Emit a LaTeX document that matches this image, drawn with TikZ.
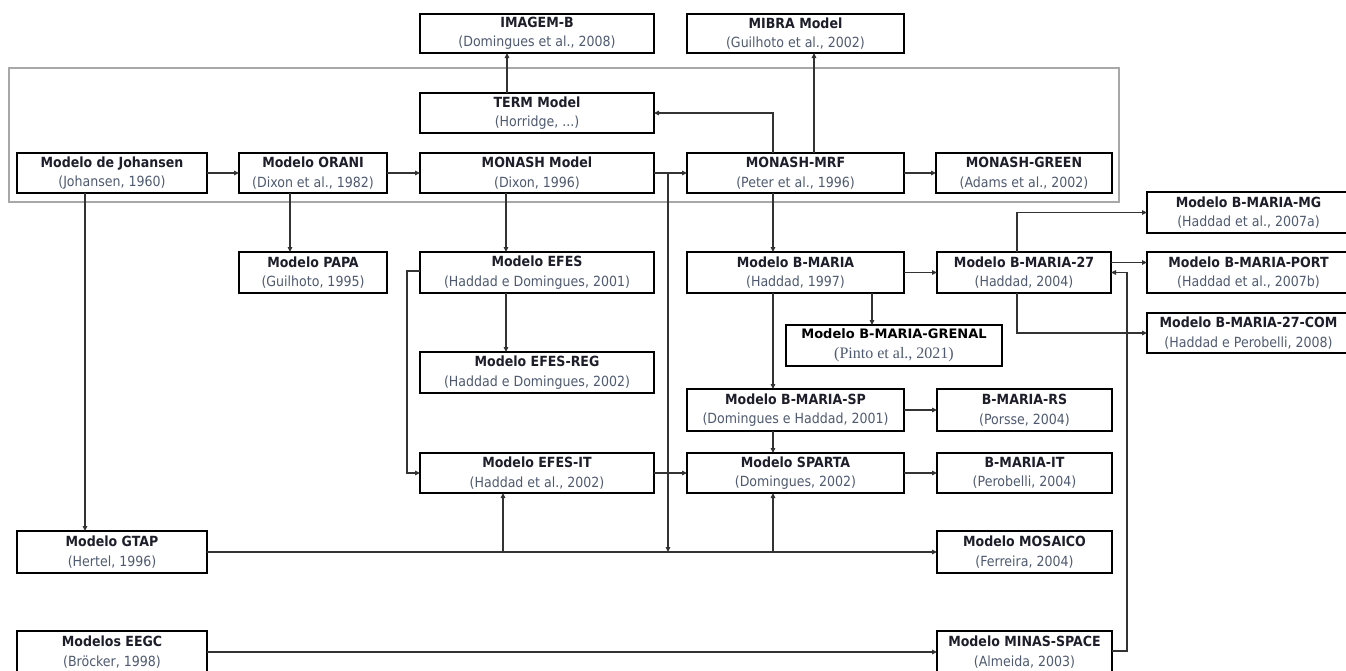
\documentclass[tikz,border=0pt]{standalone}
\usepackage{fontspec}
\usetikzlibrary{arrows.meta,calc}
\setmainfont{DejaVu Sans Condensed}
\newfontfamily\grfont{DejaVu Sans}
\newfontfamily\serfont{Liberation Serif}
\definecolor{ttlc}{HTML}{1E1E2A}
\definecolor{citc}{HTML}{4F5A70}
\definecolor{linec}{HTML}{333333}
\definecolor{framec}{HTML}{A8A8A8}
\newcommand{\mdl}[7]{\node[mbox, minimum width=#4pt, minimum height=#5pt] (#1) at (#2,#3) {{\bfseries\color{ttlc}#6}\\{\color{citc}#7}};}
\begin{document}
\begin{tikzpicture}[x=1pt,y=-1pt,
  mbox/.style={draw=black, line width=2pt, fill=white, inner sep=0pt, outer sep=0pt,
    align=center, anchor=north west, font=\fontsize{14}{19.5}\selectfont},
  arr/.style={draw=linec, line width=1.2pt, -{Triangle[length=5pt,width=4.5pt]}},
  frame/.style={draw=framec, line width=1.5pt}]
\useasboundingbox (0,0) rectangle (1346,670);
\fill[white] (0,0) rectangle (1346,670);
\draw[frame] (9,68) rectangle (1119,202);
\mdl{imagem}{420}{14}{234}{39}{IMAGEM-B}{(Domingues et al., 2008)}
\mdl{mibra}{687}{14}{217}{39}{MIBRA Model}{(Guilhoto et al., 2002)}
\mdl{term}{420}{93}{234}{40}{TERM Model}{(Horridge, ...)}
\mdl{joh}{17}{153}{190}{40}{Modelo de Johansen}{(Johansen, 1960)}
\mdl{orani}{239}{153}{148}{40}{Modelo ORANI}{(Dixon et al., 1982)}
\mdl{monash}{420}{153}{234}{40}{MONASH Model}{(Dixon, 1996)}
\mdl{mrf}{687}{153}{217}{40}{MONASH-MRF}{(Peter et al., 1996)}
\mdl{green}{936}{153}{176}{40}{MONASH-GREEN}{(Adams et al., 2002)}
\mdl{papa}{239}{252}{148}{41}{Modelo PAPA}{(Guilhoto, 1995)}
\mdl{efes}{420}{252}{234}{41}{Modelo EFES}{(Haddad e Domingues, 2001)}
\mdl{bmaria}{687}{252}{217}{41}{Modelo B-MARIA}{(Haddad, 1997)}
\mdl{b27}{937}{252}{174}{41}{Modelo B-MARIA-27}{(Haddad, 2004)}
\mdl{mg}{1147}{192}{203}{41}{Modelo B-MARIA-MG}{(Haddad et al., 2007a)}
\mdl{port}{1147}{252}{203}{41}{Modelo B-MARIA-PORT}{(Haddad et al., 2007b)}
\mdl{com}{1147}{313}{203}{40}{Modelo B-MARIA-27-COM}{(Haddad e Perobelli, 2008)}
\node[mbox, minimum width=216pt, minimum height=41pt] (grenal) at (786,325)
  {{\grfont\bfseries\fontsize{13}{19.5}\selectfont\color{black}Modelo B-MARIA-GRENAL}\\{\serfont\fontsize{16}{19.5}\selectfont\color{citc}(Pinto et al., 2021)}};
\mdl{efesreg}{420}{352}{234}{41}{Modelo EFES-REG}{(Haddad e Domingues, 2002)}
\mdl{sp}{687}{389}{217}{42}{Modelo B-MARIA-SP}{(Domingues e Haddad, 2001)}
\mdl{rs}{937}{389}{175}{42}{B-MARIA-RS}{(Porsse, 2004)}
\mdl{efesit}{420}{453}{234}{40}{Modelo EFES-IT}{(Haddad et al., 2002)}
\mdl{sparta}{687}{453}{217}{40}{Modelo SPARTA}{(Domingues, 2002)}
\mdl{bit}{937}{453}{175}{40}{B-MARIA-IT}{(Perobelli, 2004)}
\mdl{gtap}{17}{531}{190}{42}{Modelo GTAP}{(Hertel, 1996)}
\mdl{mosaico}{937}{531}{175}{42}{Modelo MOSAICO}{(Ferreira, 2004)}
\mdl{eegc}{17}{631}{190}{42}{Modelos EEGC}{(Br\"ocker, 1998)}
\mdl{minas}{937}{631}{175}{42}{Modelo MINAS-SPACE}{(Almeida, 2003)}
% connector x positions
\coordinate (xj) at (85,0);
\coordinate (xo) at (290,0);
\coordinate (xe) at (506,0);
\coordinate (xi) at (507,0);
\coordinate (xe2) at (503,0);
\coordinate (xm) at (668,0);
\coordinate (xt) at (773,0);
\coordinate (xmi) at (814,0);
\coordinate (xg) at (872,0);
\coordinate (xb) at (1017,0);
\coordinate (xr) at (1127,0);
% connectors
\draw[arr] (joh) -- (orani);
\draw[arr] (orani) -- (monash);
\draw[arr] (monash) -- (mrf);
\draw[arr] (mrf) -- (green);
\draw[arr] (monash -| xm) -- (gtap -| xm);
\draw[arr] (mrf.north -| xt) |- (term.east);
\draw[arr] (term.north -| xi) -- (imagem.south -| xi);
\draw[arr] (mrf.north -| xmi) -- (mibra.south -| xmi);
\draw[arr] (joh.south -| xj) -- (gtap.north -| xj);
\draw[arr] (orani.south -| xo) -- (papa.north -| xo);
\draw[arr] (monash.south -| xe) -- (efes.north -| xe);
\draw[arr] (mrf.south -| xt) -- (bmaria.north -| xt);
\draw[arr] (efes.south -| xe) -- (efesreg.north -| xe);
\draw[arr] ([yshift=1.5pt]efes.west) -- ++(-13,0) |- (efesit.west);
\draw[arr] (efesit) -- (sparta);
\draw[arr] (bmaria.south -| xt) -- (sp.north -| xt);
\draw[arr] (bmaria.south -| xg) -- (grenal.north -| xg);
\draw[arr] (bmaria) -- (b27);
\draw[arr] (sp.south -| xt) -- (sparta.north -| xt);
\draw[arr] (sp) -- (rs);
\draw[arr] (sparta) -- (bit);
\draw[arr] (b27.north -| xb) |- (mg.west);
\draw[arr] ([yshift=10pt]b27.east) -- ([yshift=10pt]port.west);
\draw[arr] (b27.south -| xb) |- (com.west);
\draw[arr] ([yshift=1pt]minas.east) -| (xr |- b27.east) -- (b27.east);
\draw[arr] (gtap) -- (mosaico);
\draw[arr] (gtap -| xe2) -- (efesit.south -| xe2);
\draw[arr] (gtap -| xt) -- (sparta.south -| xt);
\draw[arr] (eegc) -- (minas);
\end{tikzpicture}
\end{document}
